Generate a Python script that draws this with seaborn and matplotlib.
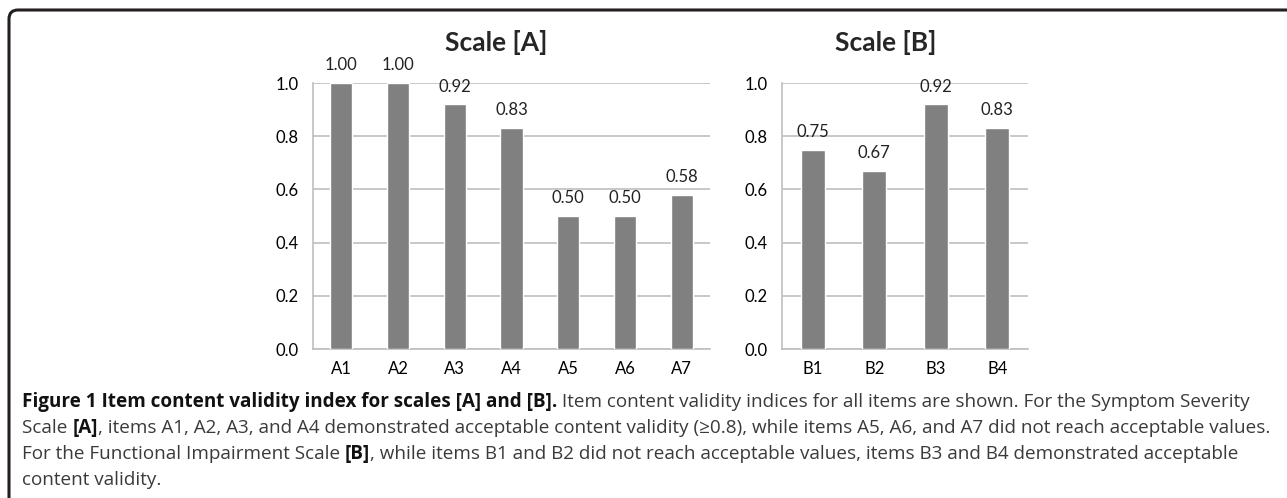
import matplotlib
matplotlib.use("Agg")
import matplotlib.pyplot as plt
import seaborn as sns
from matplotlib.path import Path
from matplotlib.patches import PathPatch
from matplotlib.ticker import FixedLocator, FormatStrFormatter

# data
items_a = ["A1", "A2", "A3", "A4", "A5", "A6", "A7"]
cvi_a = [1.00, 1.00, 0.92, 0.83, 0.50, 0.50, 0.58]
items_b = ["B1", "B2", "B3", "B4"]
cvi_b = [0.75, 0.67, 0.92, 0.83]
titles = ["Scale [A]", "Scale [B]"]
y_ticks = [0.0, 0.2, 0.4, 0.6, 0.8, 1.0]

sns.set_style("white")
plt.rcParams["font.family"] = ["Lato", "DejaVu Sans"]

W, H = 1287, 498
fig = plt.figure(figsize=(W / 100, H / 100), dpi=100)

bar_col = "#808080"
grid_col = "#BFBFBF"

# axes boxes in pixels: left, right, top, bottom
boxes = [(313, 710, 83, 349), (782, 1028, 83, 349)]
title_x = [496, 886]

for (l, r, t, b), items, vals, ttl, tx in zip(boxes, [items_a, items_b], [cvi_a, cvi_b], titles, title_x):
    ax = fig.add_axes([l / W, (H - b) / H, (r - l) / W, (b - t) / H])
    sns.barplot(x=items, y=vals, color=bar_col, saturation=1, width=0.39, ax=ax, zorder=3)
    ax.set_ylim(0, 1.0)
    ax.set_xlim(-0.5, len(items) - 0.5)
    ax.yaxis.set_major_locator(FixedLocator(y_ticks))
    ax.yaxis.set_major_formatter(FormatStrFormatter("%.1f"))
    ax.grid(axis="y", color=grid_col, lw=1.2, zorder=0)
    ax.set_axisbelow(True)
    for s in ["top", "right"]:
        ax.spines[s].set_visible(False)
    for s in ["left", "bottom"]:
        ax.spines[s].set_color(grid_col)
        ax.spines[s].set_linewidth(1.2)
    ax.set_xticks([i - 0.5 for i in range(len(items) + 1)], minor=True)
    ax.tick_params(axis="x", which="major", length=0, pad=9, labelsize=12, labelcolor="black")
    ax.tick_params(axis="x", which="minor", length=5, width=1.2, color=grid_col, direction="out")
    ax.tick_params(axis="y", length=4, width=1.2, color=grid_col, direction="out", pad=6,
                   labelsize=12, labelcolor="black")
    ax.set_xlabel("")
    ax.set_ylabel("")
    ax.bar_label(ax.containers[0], fmt="%.2f", padding=7, fontsize=12, color="#222222", clip_on=False)
    fig.text(tx / W, (H - 42) / H, ttl, ha="center", va="center", fontsize=19, fontweight="bold")

# frame: only the left side, the rounded top-left corner and the top side
fx, fy, rad = 9, 10, 9
pts = [(fx, H), (fx, fy + rad), (fx, fy), (fx + rad, fy), (W, fy)]
pts = [(x / W, (H - y) / H) for x, y in pts]
codes = [Path.MOVETO, Path.LINETO, Path.CURVE3, Path.CURVE3, Path.LINETO]
fig.patches.append(PathPatch(Path(pts, codes), transform=fig.transFigure, fill=False,
                             ec="#231f20", lw=2.2, capstyle="butt"))

# caption, pieced together to get bold parts inline
cap_font = ["Open Sans", "DejaVu Sans"]
cap_size = 13.6
cap_col = "#3a3a3a"
lines = [
    [("Figure 1 Item content validity index for scales [A] and [B].", True),
     (" Item content validity indices for all items are shown. For the Symptom Severity", False)],
    [("Scale ", False), ("[A]", True),
     (", items A1, A2, A3, and A4 demonstrated acceptable content validity (\u22650.8), while items A5, A6, and A7 did not reach acceptable values.", False)],
    [("For the Functional Impairment Scale ", False), ("[B]", True),
     (", while items B1 and B2 did not reach acceptable values, items B3 and B4 demonstrated acceptable", False)],
    [("content validity.", False)],
]
line_y = [402, 428, 454, 480]
for parts, yy in zip(lines, line_y):
    prev = None
    for txt, bold in parts:
        kw = dict(fontsize=cap_size, family=cap_font, fontweight="bold" if bold else "normal",
                  color="#111111" if bold else cap_col)
        if prev is None:
            prev = fig.text(22 / W, (H - yy) / H, txt, ha="left", va="center", **kw)
        else:
            prev = fig.add_artist(plt.Annotation(txt, xy=(1, 0.5), xycoords=prev, ha="left", va="center", **kw))

fig.savefig("out.png", dpi=100)
